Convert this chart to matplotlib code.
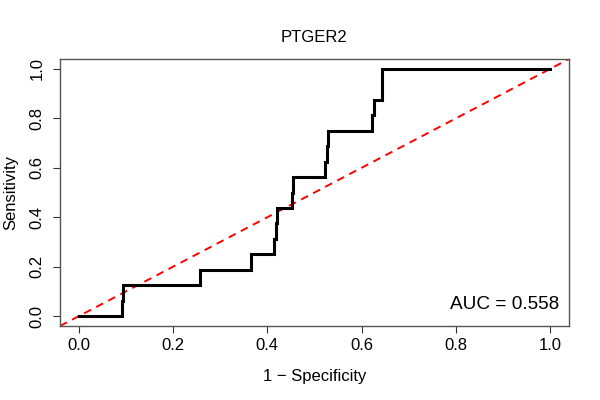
import matplotlib
matplotlib.use("Agg")
import matplotlib.pyplot as plt

# ROC curve vertices (1 - specificity, sensitivity)
fpr = [0.0, 0.0905, 0.0905, 0.094, 0.094, 0.2566, 0.2566, 0.3648, 0.3648,
       0.414, 0.414, 0.4175, 0.4175, 0.421, 0.421, 0.453, 0.453, 0.455, 0.455,
       0.5225, 0.5225, 0.526, 0.526, 0.5295, 0.5295, 0.623, 0.623, 0.626, 0.626,
       0.6426, 0.6426, 1.0]
tpr = [0.0, 0.0, 0.0625, 0.0625, 0.125, 0.125, 0.1875, 0.1875, 0.25,
       0.25, 0.3125, 0.3125, 0.375, 0.375, 0.4375, 0.4375, 0.5, 0.5, 0.5625,
       0.5625, 0.625, 0.625, 0.6875, 0.6875, 0.75, 0.75, 0.8125, 0.8125, 0.875,
       0.875, 1.0, 1.0]

title = "PTGER2"
auc_label = "AUC = 0.558"
xlabel = "1 \u2212 Specificity"
ylabel = "Sensitivity"
ticks = [0.0, 0.2, 0.4, 0.6, 0.8, 1.0]
tick_labels = ["0.0", "0.2", "0.4", "0.6", "0.8", "1.0"]

plt.rcParams['font.family'] = ['Liberation Sans', 'DejaVu Sans']

fig = plt.figure(figsize=(6, 4), dpi=100)
ax = fig.add_axes([60/600, 1-326/400, 509/600, 267/400])

ax.axline((0, 0), (1, 1), color='red', lw=1.4, linestyle=(0, (4, 3)), zorder=2)
ax.plot(fpr, tpr, color='black', lw=2.2, solid_joinstyle='miter', zorder=3)

ax.set_xlim(-0.04, 1.04)
ax.set_ylim(-0.04, 1.04)
ax.set_xticks(ticks)
ax.set_xticklabels(tick_labels)
ax.set_yticks(ticks)
ax.set_yticklabels(tick_labels, rotation=90, va='center')
ax.tick_params(axis='both', direction='out', length=5, width=0.8, labelsize=12, color='#333333')
ax.tick_params(axis='x', pad=4)
ax.tick_params(axis='y', pad=6)
for s in ax.spines.values():
    s.set_color('#555555')
    s.set_linewidth(1.0)

ax.text(1.019, 0.045, auc_label, ha='right', va='center', fontsize=13.7)

fig.text(314.5/600, 1-37/400, title, ha='center', va='center', fontsize=12)
fig.text(314.5/600, 1-377/400, xlabel, ha='center', va='center', fontsize=12)
fig.text(11/600, 1-192.5/400, ylabel, ha='center', va='center', rotation=90, fontsize=12)

fig.savefig("out.png", dpi=100)
